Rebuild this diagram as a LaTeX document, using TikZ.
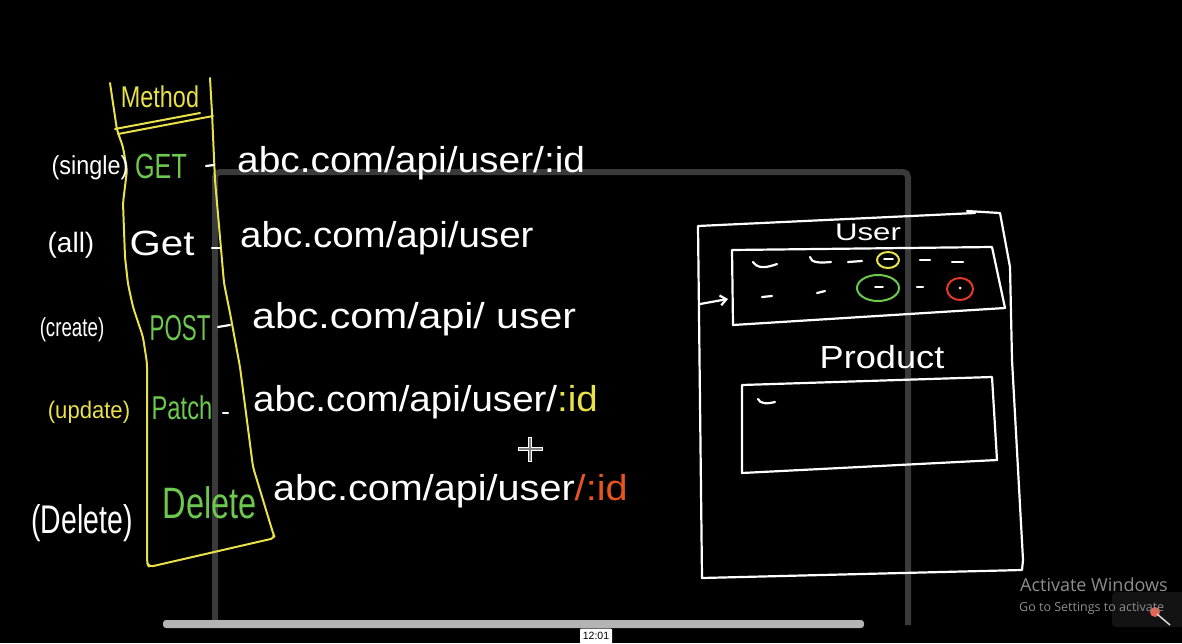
\documentclass[tikz,border=0pt]{standalone}
\usepackage{fontspec}
\setmainfont{Liberation Sans}
\newfontfamily\winfont{Open Sans}
\usetikzlibrary{arrows.meta}
\definecolor{hwgreen}{HTML}{6CC84E}
\definecolor{hwyellow}{HTML}{E8E14A}
\definecolor{hwred}{HTML}{E8541E}
\definecolor{hwcirc}{HTML}{E23A26}
\definecolor{framegray}{HTML}{3A3A3A}
\definecolor{bargray}{HTML}{B4B4B4}
\definecolor{wingray}{HTML}{8E8E8E}
\newcommand{\fs}[1]{\fontsize{#1}{#1}\selectfont}
\newcommand{\hx}[2]{\scalebox{#1}[1]{#2}}
\begin{document}
\begin{tikzpicture}[x=1pt,y=-1pt,
  ink/.style={white, line width=2.2pt, line cap=round, line join=round},
  yink/.style={hwyellow, line width=2pt, line cap=round, line join=round},
  hw/.style={inner sep=0pt, text=white},
  url/.style={hw, anchor=base west, font=\fs{36}},
  meth/.style={hw, anchor=center},
  framebar/.style={framegray, line width=6pt}]
\fill[black] (0,0) rectangle (1182,643);
\useasboundingbox (0,0) rectangle (1182,643);

% screen-share frame
\draw[framebar, rounded corners=5pt] (215,622) -- (215,172) -- (908,172) -- (908,625);
\fill[bargray, rounded corners=3pt] (163,620) rectangle (864,628);
\node[fill=white, text=black, inner sep=1pt, font=\fs{10.5}, minimum width=32pt, minimum height=15pt, rounded corners=1pt] (time) at (596,636) {12:01};

% yellow method column
\draw[yink, rounded corners=4pt] (110,83) -- (117,130) -- (123,147) -- (127,170) -- (123,203) -- (125,257) -- (128,284) -- (133,307) -- (143,337) -- (147,363) -- (147,563) -- (149,567) -- (275,538) -- (273,533) -- (253,467) -- (240,367) -- (230,313) -- (224,283) -- (215,180) -- (212,113) -- (210,78);
\draw[yink] (115,129) -- (200,113);
\draw[yink] (118,134) -- (213,116);
\node[meth, text=hwyellow, font=\fs{30}] (hdr) at (160,97) {\hx{0.78}{Method}};

% side labels
\node[meth, font=\fs{26}] (lsingle) at (90,168) {\hx{0.9}{(single)}};
\node[meth, font=\fs{28}] (lall) at (71,245) {(all)};
\node[meth, font=\fs{26}] (lcreate) at (72,330) {\hx{0.72}{(create)}};
\node[meth, text=hwyellow, font=\fs{24}] (lupdate) at (89,412) {\hx{0.92}{(update)}};
\node[meth, font=\fs{40}] (ldelete) at (82,523) {\hx{0.71}{(Delete)}};

% method names
\node[meth, text=hwgreen, font=\fs{35}] (mget) at (161,166) {\hx{0.72}{GET}};
\node[meth, font=\fs{35}] (mget2) at (162,243) {\hx{1.15}{Get}};
\node[meth, text=hwgreen, font=\fs{36}] (mpost) at (180,328) {\hx{0.62}{POST}};
\node[meth, text=hwgreen, font=\fs{33}] (mpatch) at (182,408) {\hx{0.72}{Patch}};
\node[meth, text=hwgreen, font=\fs{44}] (mdel) at (210,503) {\hx{0.74}{Delete}};

% dashes after methods
\draw[ink] (206,166) -- (214,165);
\draw[ink] (212,248) -- (220,248);
\draw[ink] (218,327) -- (230,325);
\draw[ink] (223,413) -- (228,413);

% URLs
\node[url] (u1) at (237,172) {\hx{1.08}{abc.com/api/user/:id}};
\node[url] (u2) at (240,247) {\hx{1.07}{abc.com/api/user}};
\node[url] (u3) at (252,328) {\hx{1.14}{abc.com/api/ user}};
\node[url] (u4) at (253,411) {\hx{1.07}{abc.com/api/user/\textcolor{hwyellow}{:id}}};
\node[url] (u5) at (273,500) {\hx{1.1}{abc.com/api/user\textcolor{hwred}{/:id}}};

% cursor
\draw[white, line width=4pt] (518,449) -- (543,449) (530,437) -- (530,462);
\draw[gray, line width=1.8pt] (519,449) -- (542,449) (530,438) -- (530,461);

% right diagram: outer box
\draw[ink] (698,226) -- (975,213) (967,211) -- (1000,213) -- (1010,267) -- (1012,360) -- (1023,560) -- (1022,570) -- (702,578) -- (698,226);
\node[meth, font=\fs{24}] (tuser) at (868,232) {\hx{1.3}{User}};

% user table
\draw[ink] (732,250) -- (992,247) -- (1005,308) -- (733,325) -- cycle;
\coordinate (arrfrom) at (700,304);
\draw[ink, -{Straight Barb[length=6pt,width=10pt]}] (arrfrom) -- (728,299);
% row 1
\draw[ink] (753,262) .. controls (758,269) and (766,268) .. (777,264);
\draw[ink] (810,257) .. controls (811,263) and (820,263) .. (831,262);
\draw[ink] (848,262) -- (862,261);
\draw[hwyellow, line width=2pt] (888,260) ellipse [x radius=11pt, y radius=8pt];
\draw[ink, line width=1.8pt] (884,259) -- (893,259);
\draw[ink] (920,260) -- (930,260);
\draw[ink] (952,262) -- (963,262);
% row 2
\draw[ink] (762,297) -- (772,296);
\draw[ink] (817,293) -- (825,291);
\draw[hwgreen, line width=2pt] (878,288) ellipse [x radius=21pt, y radius=13pt];
\draw[ink, line width=1.8pt] (875,287) -- (883,287);
\draw[ink] (917,287) -- (923,287);
\draw[hwcirc, line width=2pt] (960,289) ellipse [x radius=13pt, y radius=11pt];
\fill[white] (960,288) circle (1.5pt);

% product
\node[meth, font=\fs{32}] (tprod) at (882,357) {\hx{1.13}{Product}};
\draw[ink] (742,385) -- (992,377) -- (997,460) -- (742,473) -- cycle;
\draw[ink] (758,399) .. controls (760,404) and (767,404) .. (775,402);

% windows watermark
\fill[framegray!120, rounded corners=4pt] (1112,592) rectangle (1190,627);
\fill[hwcirc!80] (1155,612) circle (5pt);
\draw[white!70!gray, line width=1.5pt] (1157,614) -- (1170,625);
\node[inner sep=0pt, anchor=base west, text=wingray, font=\winfont\fs{18}] (act1) at (1020,591) {Activate Windows};
\node[inner sep=0pt, anchor=base west, text=wingray, font=\winfont\fs{12.5}] (act2) at (1019,611) {Go to Settings to activate};
\end{tikzpicture}
\end{document}
